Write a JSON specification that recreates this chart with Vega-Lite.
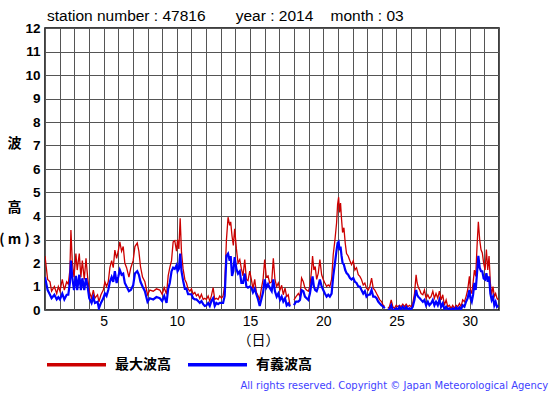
{
 "$schema": "https://vega.github.io/schema/vega-lite/v6.json",
 "width": 454,
 "height": 282,
 "autosize": "none",
 "padding": {"left": 45, "top": 28, "right": 56, "bottom": 85},
 "background": "white",
 "title": {"text": "station number : 47816\u00a0\u00a0\u00a0\u00a0\u00a0\u00a0\u00a0year : 2014\u00a0\u00a0\u00a0\u00a0month : 03", "anchor": "start", "frame": "group", "dx": 2, "dy": 7, "offset": 4, "font": "Liberation Sans", "fontSize": 15.5, "fontWeight": "normal", "color": "black"},
 "data": {"values": [
  {"d":1.0,"a":2.3,"b":1.4},{"d":1.18,"a":1.3,"b":0.85},{"d":1.34,"a":1.2,"b":0.65},{"d":1.45,"a":0.8,"b":0.5},{"d":1.64,"a":1.0,"b":0.65},{"d":1.8,"a":0.7,"b":0.45},{"d":1.91,"a":1.0,"b":0.55},{"d":2.02,"a":0.8,"b":0.45},{"d":2.18,"a":1.3,"b":0.7},{"d":2.32,"a":0.85,"b":0.45},{"d":2.48,"a":1.2,"b":0.65},{"d":2.59,"a":1.1,"b":0.65},{"d":2.7,"a":1.7,"b":1.15},{"d":2.77,"a":3.4,"b":2.1},{"d":2.86,"a":2.1,"b":1.4},{"d":2.98,"a":1.4,"b":0.85},{"d":3.11,"a":2.4,"b":1.45},{"d":3.2,"a":1.7,"b":0.85},{"d":3.34,"a":2.4,"b":1.5},{"d":3.45,"a":1.4,"b":0.85},{"d":3.55,"a":2.1,"b":1.35},{"d":3.68,"a":1.3,"b":0.85},{"d":3.8,"a":2.2,"b":1.35},{"d":3.91,"a":1.4,"b":1.0},{"d":4.02,"a":0.8,"b":0.5},{"d":4.18,"a":0.5,"b":0.3},{"d":4.3,"a":0.85,"b":0.55},{"d":4.41,"a":0.5,"b":0.3},{"d":4.59,"a":0.65,"b":0.35},{"d":4.68,"a":0.35,"b":0.07},{"d":4.82,"a":0.65,"b":0.3},{"d":4.98,"a":0.85,"b":0.5},{"d":5.09,"a":1.2,"b":0.7},{"d":5.2,"a":1.0,"b":0.6},{"d":5.32,"a":1.2,"b":0.85},{"d":5.43,"a":1.8,"b":1.2},{"d":5.55,"a":2.1,"b":1.4},{"d":5.66,"a":1.8,"b":1.2},{"d":5.77,"a":2.55,"b":1.65},{"d":5.89,"a":2.2,"b":1.15},{"d":6.0,"a":2.5,"b":1.4},{"d":6.11,"a":2.9,"b":1.7},{"d":6.23,"a":2.5,"b":1.5},{"d":6.34,"a":2.7,"b":1.55},{"d":6.45,"a":2.0,"b":1.15},{"d":6.57,"a":1.8,"b":1.0},{"d":6.73,"a":1.4,"b":0.8},{"d":6.86,"a":1.8,"b":0.85},{"d":7.02,"a":2.1,"b":1.05},{"d":7.14,"a":2.7,"b":1.55},{"d":7.3,"a":2.85,"b":1.65},{"d":7.41,"a":2.5,"b":1.5},{"d":7.52,"a":1.85,"b":1.2},{"d":7.66,"a":1.4,"b":1.0},{"d":7.82,"a":1.2,"b":0.8},{"d":8.0,"a":0.65,"b":0.35},{"d":8.16,"a":0.85,"b":0.5},{"d":8.39,"a":0.8,"b":0.45},{"d":8.61,"a":0.9,"b":0.55},{"d":8.84,"a":0.85,"b":0.5},
  {"d":9.0,"a":0.67,"b":0.38},{"d":9.14,"a":0.95,"b":0.6},{"d":9.3,"a":0.67,"b":0.3},{"d":9.41,"a":1.45,"b":0.9},{"d":9.52,"a":1.8,"b":1.15},{"d":9.64,"a":2.1,"b":1.65},{"d":9.75,"a":2.9,"b":1.8},{"d":9.86,"a":2.95,"b":1.75},{"d":9.98,"a":2.5,"b":1.9},{"d":10.05,"a":3.0,"b":1.65},{"d":10.14,"a":2.6,"b":1.75},{"d":10.23,"a":3.9,"b":2.4},{"d":10.32,"a":2.45,"b":1.65},{"d":10.43,"a":1.75,"b":1.25},{"d":10.55,"a":1.3,"b":0.9},{"d":10.66,"a":1.15,"b":0.9},{"d":10.77,"a":0.9,"b":0.67},{"d":10.89,"a":0.8,"b":0.67},{"d":11.0,"a":0.9,"b":0.67},{"d":11.11,"a":0.67,"b":0.5},{"d":11.23,"a":0.75,"b":0.45},{"d":11.34,"a":0.6,"b":0.45},{"d":11.45,"a":0.67,"b":0.38},{"d":11.57,"a":0.5,"b":0.3},{"d":11.68,"a":0.67,"b":0.38},{"d":11.8,"a":0.45,"b":0.25},{"d":11.91,"a":0.5,"b":0.17},{"d":12.02,"a":0.45,"b":0.2},{"d":12.14,"a":0.6,"b":0.3},{"d":12.25,"a":0.38,"b":0.17},{"d":12.36,"a":0.6,"b":0.38},{"d":12.48,"a":0.95,"b":0.5},{"d":12.59,"a":0.45,"b":0.17},{"d":12.7,"a":0.5,"b":0.3},{"d":12.82,"a":0.45,"b":0.25},{"d":12.93,"a":0.6,"b":0.3},{"d":13.05,"a":0.5,"b":0.3},{"d":13.16,"a":0.6,"b":0.3},{"d":13.27,"a":1.05,"b":0.6},{"d":13.39,"a":3.0,"b":2.3},{"d":13.5,"a":3.95,"b":2.4},{"d":13.61,"a":3.6,"b":2.1},{"d":13.68,"a":3.75,"b":2.3},{"d":13.77,"a":3.15,"b":1.45},{"d":13.86,"a":2.75,"b":1.65},{"d":13.95,"a":3.45,"b":2.25},{"d":14.07,"a":2.6,"b":1.75},{"d":14.18,"a":2.0,"b":1.55},{"d":14.3,"a":2.15,"b":1.65},{"d":14.41,"a":1.75,"b":1.15},{"d":14.52,"a":1.45,"b":1.15},{"d":14.64,"a":2.15,"b":1.55},{"d":14.75,"a":1.3,"b":1.0},{"d":14.86,"a":1.25,"b":0.95},{"d":14.98,"a":1.65,"b":1.0},{"d":15.09,"a":1.3,"b":0.95},{"d":15.2,"a":0.9,"b":0.75},{"d":15.32,"a":1.3,"b":0.9},{"d":15.43,"a":0.75,"b":0.67},{"d":15.55,"a":0.6,"b":0.45},{"d":15.66,"a":0.45,"b":0.17},{"d":15.77,"a":0.9,"b":0.45},{"d":15.89,"a":1.3,"b":0.75},{"d":16.0,"a":2.15,"b":1.3},{"d":16.11,"a":1.4,"b":0.95},{"d":16.23,"a":1.45,"b":1.1},{"d":16.34,"a":1.15,"b":0.95},
  {"d":16.48,"a":1.2,"b":0.8},{"d":16.59,"a":2.2,"b":1.3},{"d":16.7,"a":1.3,"b":0.8},{"d":16.82,"a":1.0,"b":0.57},{"d":16.93,"a":1.15,"b":0.7},{"d":17.05,"a":0.85,"b":0.43},{"d":17.16,"a":1.05,"b":0.57},{"d":17.27,"a":0.65,"b":0.36},{"d":17.39,"a":0.93,"b":0.5},{"d":17.5,"a":0.57,"b":0.2},{"d":17.61,"a":0.65,"b":0.28},{"d":17.73,"a":0.2,"b":0.15},{"d":17.85,"a":null,"b":null},{"d":18.0,"a":0.43,"b":0.2},{"d":18.14,"a":0.57,"b":0.36},{"d":18.3,"a":0.7,"b":0.36},{"d":18.41,"a":0.57,"b":0.43},{"d":18.52,"a":1.36,"b":0.85},{"d":18.64,"a":1.2,"b":0.8},{"d":18.75,"a":0.93,"b":0.57},{"d":18.86,"a":0.85,"b":0.5},{"d":18.98,"a":0.8,"b":0.43},{"d":19.09,"a":1.0,"b":0.7},{"d":19.2,"a":1.7,"b":1.15},{"d":19.27,"a":2.3,"b":1.43},{"d":19.36,"a":1.7,"b":1.0},{"d":19.45,"a":1.85,"b":0.85},{"d":19.55,"a":1.3,"b":0.8},{"d":19.66,"a":1.57,"b":1.0},{"d":19.77,"a":2.15,"b":1.3},{"d":19.89,"a":1.5,"b":1.0},{"d":20.0,"a":1.3,"b":0.85},{"d":20.11,"a":1.15,"b":0.7},{"d":20.23,"a":1.0,"b":0.57},{"d":20.34,"a":1.07,"b":0.65},{"d":20.45,"a":1.0,"b":0.57},{"d":20.57,"a":1.3,"b":0.7},{"d":20.68,"a":2.35,"b":1.43},{"d":20.8,"a":3.0,"b":2.0},{"d":20.91,"a":3.7,"b":2.55},{"d":20.98,"a":4.5,"b":2.85},{"d":21.05,"a":4.8,"b":2.9},{"d":21.11,"a":4.15,"b":2.55},{"d":21.18,"a":4.55,"b":2.7},{"d":21.25,"a":3.85,"b":2.3},{"d":21.32,"a":3.3,"b":2.0},{"d":21.41,"a":3.5,"b":1.93},{"d":21.5,"a":2.85,"b":1.7},{"d":21.59,"a":2.4,"b":1.57},{"d":21.7,"a":2.3,"b":1.5},{"d":21.82,"a":2.1,"b":1.36},{"d":21.93,"a":1.93,"b":1.3},{"d":22.05,"a":2.1,"b":1.36},{"d":22.16,"a":1.7,"b":1.2},{"d":22.27,"a":1.8,"b":1.15},{"d":22.39,"a":1.5,"b":1.0},{"d":22.5,"a":1.43,"b":1.0},{"d":22.61,"a":1.3,"b":0.85},{"d":22.73,"a":1.07,"b":0.7},{"d":22.84,"a":1.15,"b":0.8},{"d":22.95,"a":0.93,"b":0.57},{"d":23.07,"a":0.85,"b":0.65},{"d":23.18,"a":1.0,"b":0.65},{"d":23.3,"a":1.36,"b":0.85},{"d":23.41,"a":0.93,"b":0.57},{"d":23.52,"a":0.85,"b":0.57},{"d":23.64,"a":0.7,"b":0.5},{"d":23.75,"a":0.57,"b":0.36},{"d":23.86,"a":0.43,"b":0.28},{"d":23.98,"a":0.36,"b":0.2},{"d":24.09,"a":0.2,"b":0.15},{"d":24.2,"a":0.15,"b":0.07},{"d":24.3,"a":null,"b":null},
  {"d":24.41,"a":0.07,"b":0.0},{"d":24.52,"a":0.14,"b":0.03},{"d":24.64,"a":0.43,"b":0.2},{"d":24.75,"a":0.14,"b":0.0},{"d":24.86,"a":0.07,"b":0.0},{"d":24.98,"a":0.2,"b":0.07},{"d":25.09,"a":0.14,"b":0.0},{"d":25.2,"a":0.2,"b":0.14},{"d":25.32,"a":0.14,"b":0.03},{"d":25.43,"a":0.25,"b":0.14},{"d":25.55,"a":0.14,"b":0.03},{"d":25.66,"a":0.25,"b":0.14},{"d":25.77,"a":0.14,"b":0.03},{"d":25.89,"a":0.2,"b":0.07},{"d":26.0,"a":0.14,"b":0.03},{"d":26.11,"a":0.28,"b":0.14},{"d":26.23,"a":0.7,"b":0.43},{"d":26.34,"a":1.5,"b":0.85},{"d":26.41,"a":1.15,"b":0.65},{"d":26.5,"a":0.95,"b":0.55},{"d":26.59,"a":0.85,"b":0.5},{"d":26.68,"a":0.7,"b":0.43},{"d":26.8,"a":0.65,"b":0.35},{"d":26.91,"a":0.85,"b":0.43},{"d":27.02,"a":0.5,"b":0.2},{"d":27.14,"a":0.65,"b":0.35},{"d":27.25,"a":0.5,"b":0.2},{"d":27.36,"a":0.57,"b":0.28},{"d":27.48,"a":0.8,"b":0.43},{"d":27.59,"a":0.5,"b":0.2},{"d":27.7,"a":0.7,"b":0.35},{"d":27.82,"a":0.5,"b":0.2},{"d":27.93,"a":0.8,"b":0.43},{"d":28.05,"a":0.43,"b":0.14},{"d":28.16,"a":0.65,"b":0.28},{"d":28.27,"a":0.2,"b":0.03},{"d":28.39,"a":0.43,"b":0.14},{"d":28.5,"a":0.14,"b":0.03},{"d":28.61,"a":0.2,"b":0.07},{"d":28.73,"a":0.07,"b":0.0},{"d":28.84,"a":0.2,"b":0.07},{"d":28.95,"a":0.07,"b":0.0},{"d":29.07,"a":0.2,"b":0.11},{"d":29.18,"a":0.14,"b":0.03},{"d":29.3,"a":0.28,"b":0.11},{"d":29.41,"a":0.14,"b":0.03},{"d":29.52,"a":0.43,"b":0.2},{"d":29.64,"a":0.35,"b":0.14},{"d":29.75,"a":0.57,"b":0.35},{"d":29.86,"a":0.85,"b":0.5},{"d":29.98,"a":1.43,"b":0.85},{"d":30.05,"a":0.85,"b":0.5},{"d":30.14,"a":0.7,"b":0.35},{"d":30.23,"a":1.15,"b":0.65},{"d":30.32,"a":1.7,"b":1.15},{"d":30.41,"a":1.43,"b":0.85},{"d":30.5,"a":2.7,"b":1.57},{"d":30.59,"a":3.75,"b":2.3},{"d":30.68,"a":3.0,"b":1.8},{"d":30.77,"a":2.57,"b":1.65},{"d":30.86,"a":2.43,"b":1.65},{"d":30.95,"a":2.0,"b":1.35},{"d":31.05,"a":1.7,"b":1.3},{"d":31.14,"a":2.57,"b":1.57},{"d":31.23,"a":1.7,"b":1.2},{"d":31.32,"a":2.3,"b":1.43},{"d":31.41,"a":1.15,"b":0.7},{"d":31.5,"a":0.65,"b":0.43},{"d":31.59,"a":1.0,"b":0.57},{"d":31.68,"a":0.57,"b":0.2},{"d":31.77,"a":0.7,"b":0.35},{"d":31.86,"a":0.5,"b":0.14},{"d":31.95,"a":0.43,"b":0.2}
 ]},
 "layer": [
  {
   "mark": {"type": "line", "strokeWidth": 1.3, "clip": true},
   "encoding": {
    "x": {"field": "d", "type": "quantitative",
      "scale": {"domain": [1, 32], "nice": false, "zero": false},
      "axis": {"values": [1,2,3,4,5,6,7,8,9,10,11,12,13,14,15,16,17,18,19,20,21,22,23,24,25,26,27,28,29,30,31,32],
        "tickCount": 100, "format": "d",
        "labelExpr": "datum.value % 5 === 0 ? datum.label : ''",
        "ticks": false, "domain": false, "grid": true, "gridColor": "#555555", "gridWidth": 1,
        "labelFont": "Liberation Sans", "labelFontSize": 14, "labelColor": "black", "labelPadding": 4,
        "labelFlush": false, "labelOverlap": false,
        "title": "（日）", "titleFont": "Noto Sans CJK JP", "titleFontSize": 14, "titleFontWeight": "normal", "titleColor": "black",
        "titleX": 213, "titleY": 30, "titleAlign": "center", "titleBaseline": "middle"}},
    "y": {"field": "a", "type": "quantitative",
      "scale": {"domain": [0, 12], "nice": false, "zero": true},
      "axis": {"values": [0,1,2,3,4,5,6,7,8,9,10,11,12],
        "tickCount": 100, "format": "d",
        "ticks": false, "domain": false, "grid": true, "gridColor": "#555555", "gridWidth": 1,
        "labelFont": "Liberation Sans", "labelFontSize": 13.5, "labelFontWeight": "bold", "labelColor": "black", "labelPadding": 5,
        "labelFlush": false, "labelOverlap": false,
        "title": ["波", "\u2800", "高", "( m )"], "titleAngle": 0, "titleX": -31, "titleY": 108, "titleAlign": "center", "titleBaseline": "top",
        "titleFont": "Noto Sans CJK JP", "titleFontSize": 14, "titleFontWeight": "bold", "titleColor": "black", "titleLineHeight": 32}},
    "color": {"datum": "最大波高", "type": "nominal",
      "scale": {"domain": ["最大波高", "有義波高"], "range": ["#cc0000", "#0000ff"]},
      "legend": {"orient": "none", "legendX": 0, "legendY": 305, "direction": "horizontal", "title": null,
        "symbolType": "stroke", "symbolSize": 3481, "symbolStrokeWidth": 3.5,
        "labelFont": "Noto Sans CJK JP", "labelFontSize": 14, "labelFontWeight": "bold", "labelColor": "black",
        "labelOffset": 7, "columnPadding": 10, "padding": 0, "symbolOffset": 0}}
   }
  },
  {
   "mark": {"type": "line", "strokeWidth": 2.2, "clip": true},
   "encoding": {
    "x": {"field": "d", "type": "quantitative"},
    "y": {"field": "b", "type": "quantitative", "axis": null},
    "color": {"datum": "有義波高", "type": "nominal"}
   }
  },
  {
   "mark": {"type": "rule", "opacity": 0},
   "encoding": {
    "y": {"datum": 0, "type": "quantitative",
      "axis": {"orient": "right", "domain": false, "ticks": false, "labels": false, "grid": false,
        "title": "All rights reserved. Copyright © Japan Meteorological Agency",
        "titleAngle": 0, "titleAlign": "left", "titleBaseline": "alphabetic", "titleX": -259, "titleY": 360,
        "titleFont": "DejaVu Sans", "titleFontSize": 10, "titleFontWeight": "normal", "titleColor": "#3f3fff"}}
   }
  }
 ],
 "resolve": {"axis": {"y": "independent"}},
 "config": {
  "view": {"stroke": "black", "strokeWidth": 1.5}
 }
}
